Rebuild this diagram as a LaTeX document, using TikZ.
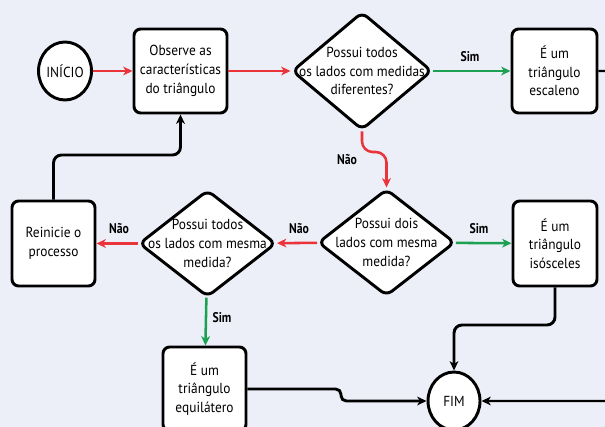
\documentclass[tikz,border=0pt]{standalone}
\usepackage{fontspec}
\setmainfont{PT Sans}[FakeStretch=0.92]
\newfontfamily\labfont{PT Sans}[FakeStretch=0.84]
\usetikzlibrary{shapes.geometric,arrows.meta}
\definecolor{bg}{RGB}{236,239,248}
\definecolor{myred}{RGB}{235,52,58}
\definecolor{mygreen}{RGB}{28,160,82}
\tikzset{
  px/.style={x=0.75pt,y=-0.75pt},
  box/.style={draw=black,line width=2.2pt,fill=white,rounded corners=5pt,align=center,inner sep=0pt,font=\fontsize{10.9}{14}\selectfont},
  dia/.style={draw=black,line width=2.2pt,fill=white,diamond,rounded corners=5pt,inner sep=0pt},
  dtext/.style={align=center,inner sep=0pt,font=\fontsize{10.9}{14}\selectfont},
  term/.style={draw=black,line width=2.2pt,fill=white,ellipse,inner sep=0pt,minimum width=39pt,minimum height=43.5pt,font=\fontsize{10.9}{14}\selectfont},
  tip/.style={-{Stealth[length=7pt,width=6.5pt,inset=2pt]}},
  redc/.style={tip,draw=myred,line width=1.9pt},
  greenc/.style={tip,draw=mygreen,line width=1.9pt},
  blackc/.style={tip,draw=black,line width=2.2pt,rounded corners=6pt},
  lab/.style={font=\labfont\bfseries\fontsize{10.5}{12}\selectfont,inner sep=0pt}
}
\begin{document}
\begin{tikzpicture}[px]
\clip (0,0) rectangle (605,427);
\fill[bg] (0,0) rectangle (605,427);
% nodes
\node[term] (ini) at (65,71) {INÍCIO};
\node[box,minimum width=69.75pt,minimum height=63pt] (obs) at (180.5,71) {Observe as\\características\\do triângulo};
\node[dia,minimum width=105pt,minimum height=88.5pt] (d1) at (362,71) {};
\node[dtext] (t1) at (d1) {Possui todos\\os lados com medidas\\diferentes?};
\node[box,minimum width=63.75pt,minimum height=63pt] (esc) at (554.5,71) {É um\\triângulo\\escaleno};
\node[dia,minimum width=102.75pt,minimum height=80.25pt] (d2) at (386.5,242.5) {};
\node[dtext] (t2) at (d2) {Possui dois\\lados com mesma\\medida?};
\node[box,minimum width=63pt,minimum height=63.75pt] (iso) at (555,243.5) {É um\\triângulo\\isósceles};
\node[dia,minimum width=102.75pt,minimum height=80.25pt] (d3) at (207.5,243.5) {};
\node[dtext] (t3) at (d3) {Possui todos\\os lados com mesma\\medida?};
\node[box,minimum width=62.25pt,minimum height=63.75pt] (rei) at (53.5,243.5) {Reinicie o\\processo};
\node[box,minimum width=62.25pt,minimum height=63pt] (equ) at (204.5,389) {É um\\triângulo\\equilátero};
\node[term] (fim) at (454,401) {FIM};
\coordinate (offr) at (660,71);
% connectors
\draw[redc] (ini) -- (obs);
\draw[redc] (obs) -- (d1);
\draw[greenc] (d1) -- (esc);
\node[lab] (l1) at (470,57) {Sim};
\draw[redc,rounded corners=8pt] (d1.south) -- (362,152) -- (386.5,152) -- (d2.north);
\node[lab] (l2) at (347,160) {Não};
\draw[greenc] (d2) -- (iso);
\node[lab] (l3) at (479,229) {Sim};
\draw[redc] (d2) -- (d3);
\node[lab] (l4) at (299,229) {Não};
\draw[redc] (d3) -- (rei);
\node[lab] (l5) at (119,229) {Não};
\draw[greenc] (d3) -- (equ);
\node[lab] (l6) at (222,318) {Sim};
\draw[blackc] (rei.north) -- (53.5,155) -- (180.5,155) -- (obs.south);
\draw[blackc] (iso.south) -- (555,325) -- (454,325) -- (fim.north);
\draw[blackc,rounded corners=4pt] (equ.east) -- (341,389) -- (341,401) -- (fim.west);
\draw[blackc,line width=1.6pt] (esc.east) -- (offr) -- (offr |- fim) -- (fim.east);
\end{tikzpicture}
\end{document}
